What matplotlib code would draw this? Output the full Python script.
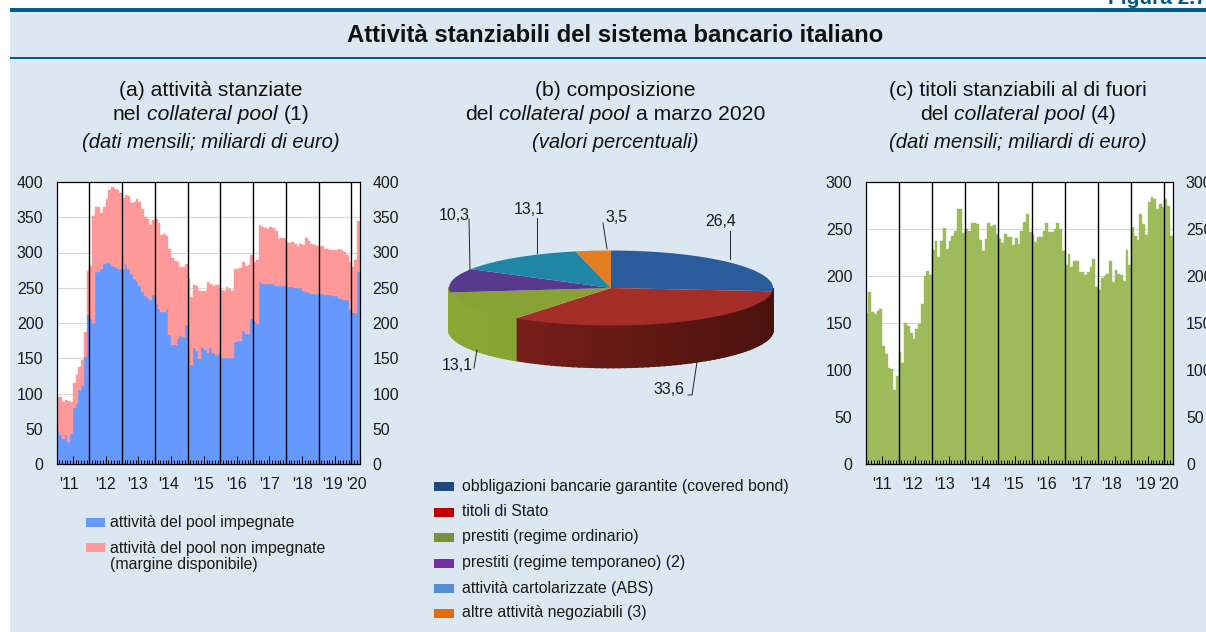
import numpy as np
import matplotlib
matplotlib.use('Agg')
import matplotlib.pyplot as plt
from matplotlib.patches import Rectangle

plt.rcParams['font.family'] = ['Liberation Sans', 'DejaVu Sans']

W, H = 1206, 632

# panel (a): miliardi di euro, gen 2011 - mar 2020
impegnate = [47, 41, 36, 41, 31, 42, 80, 85, 105, 111, 152, 212,
             206, 200, 272, 273, 276, 284, 287, 285, 281, 280, 277, 276,
             277, 284, 276, 270, 263, 259, 252, 244, 239, 235, 233, 240,
             227, 220, 216, 215, 220, 183, 169, 169, 178, 181, 180, 197,
             165, 141, 165, 160, 149, 165, 162, 158, 164, 157, 155, 158,
             151, 151, 151, 151, 150, 173, 174, 174, 188, 185, 185, 205,
             203, 199, 258, 256, 255, 255, 256, 255, 253, 252, 252, 252,
             251, 251, 251, 250, 250, 249, 246, 244, 243, 241, 241, 241,
             241, 241, 240, 240, 240, 239, 238, 236, 234, 232, 232, 219,
             214, 214, 272]
totale = [95, 95, 88, 91, 90, 88, 115, 126, 138, 148, 187, 274,
          281, 352, 364, 364, 356, 364, 376, 388, 393, 390, 388, 385,
          377, 382, 380, 370, 371, 376, 372, 362, 350, 348, 339, 346,
          347, 342, 325, 326, 323, 305, 292, 288, 287, 280, 279, 284,
          263, 237, 254, 252, 245, 246, 246, 258, 256, 252, 254, 254,
          247, 246, 251, 248, 246, 276, 276, 278, 287, 281, 282, 297,
          287, 290, 339, 336, 335, 333, 336, 335, 330, 319, 320, 321,
          313, 313, 315, 312, 308, 312, 310, 320, 317, 312, 310, 309,
          308, 309, 305, 305, 303, 303, 304, 305, 303, 301, 296, 286,
          279, 290, 345]

# panel (b): percentuali, in senso orario da nord
quote = [26.4, 33.6, 13.1, 10.3, 13.1, 3.5]
voci = ['obbligazioni bancarie garantite (covered bond)', 'titoli di Stato',
        'prestiti (regime ordinario)', 'prestiti (regime temporaneo) (2)',
        'attività cartolarizzate (ABS)', 'altre attività negoziabili (3)']
etichette_quote = ['26,4', '33,6', '13,1', '10,3', '13,1', '3,5']

# panel (c): miliardi di euro
stanziabili = [161, 183, 162, 160, 163, 165, 126, 117, 102, 101, 79, 94,
               119, 107, 150, 147, 139, 133, 144, 149, 170, 200, 205, 201,
               228, 237, 220, 237, 251, 229, 237, 243, 248, 271, 271, 246,
               250, 248, 256, 256, 255, 238, 227, 239, 256, 253, 254, 245,
               239, 235, 245, 241, 241, 233, 240, 234, 248, 257, 266, 247,
               245, 236, 242, 242, 248, 256, 247, 247, 250, 256, 250, 227,
               212, 223, 210, 216, 216, 204, 204, 201, 204, 210, 218, 188,
               185, 198, 200, 202, 216, 194, 206, 202, 201, 195, 228, 212,
               252, 243, 238, 266, 255, 244, 279, 284, 282, 271, 277, 273,
               282, 274, 243]

anni = ["'11", "'12", "'13", "'14", "'15", "'16", "'17", "'18", "'19", "'20"]
mesi_etichette_a = [4.6, 17.8, 29.5, 41, 54, 66, 78, 90, 101, 110]
mesi_etichette_c = [6, 17, 28.5, 41.5, 53.5, 65.5, 78, 89, 101, 109.6]

BG = '#dce8f1'
TEAL = '#005c85'
TXT = '#1a1a1a'
FS = 11.4


def add_axes_px(left, top, right, bottom, **kw):
    return fig.add_axes([left / W, 1 - bottom / H, (right - left) / W, (bottom - top) / H], **kw)


def style_bars(ax, ymax, step, label_months):
    n = len(impegnate)
    ax.set_xlim(0, n)
    ax.set_ylim(0, ymax)
    ax.set_facecolor('white')
    ax.set_axisbelow(False)
    ax.set_yticks(np.arange(0, ymax + 1, step))
    for y in np.arange(step, ymax, step):
        ax.axhline(y, color='#d8d8d8', lw=0.8, zorder=0.5)
    ax.tick_params(axis='y', length=0, labelsize=FS, labelcolor=TXT, pad=9.5,
                   labelleft=True, labelright=True)
    # tacche mensili, una piu lunga a meta anno
    ax.set_xticks(np.arange(n + 1), minor=True)
    ax.tick_params(axis='x', which='minor', direction='in', length=3.2, width=0.7, color='black')
    ax.set_xticks(np.arange(6, n, 12))
    ax.set_xticklabels([])
    ax.tick_params(axis='x', which='major', direction='in', length=6, width=0.7, color='black')
    for m in range(12, n, 12):
        ax.axvline(m, color='black', lw=1.0, zorder=3)
    for s in ax.spines.values():
        s.set_linewidth(0.9)
        s.set_color('black')
        s.set_zorder(4)
    for m, a in zip(label_months, anni):
        ax.annotate(a, (m, 0), xycoords=('data', 'axes fraction'), xytext=(0, -15),
                    textcoords='offset points', ha='center', va='center',
                    fontsize=FS, color=TXT)


fig = plt.figure(figsize=(W / 100, H / 100), dpi=100, facecolor='white')

# sfondo e filetti
fig.add_artist(Rectangle((10 / W, 0), 1 - 10 / W, 1 - 10 / H, transform=fig.transFigure,
                         facecolor=BG, edgecolor='none', zorder=-5))
fig.add_artist(Rectangle((10 / W, 1 - 11.5 / H), 1 - 10 / W, 3 / H, transform=fig.transFigure,
                         facecolor=TEAL, edgecolor='none', zorder=-4))
fig.add_artist(Rectangle((10 / W, 1 - 58.5 / H), 1 - 10 / W, 1.2 / H, transform=fig.transFigure,
                         facecolor=TEAL, edgecolor='none', zorder=-4))

# (a)
ax_a = add_axes_px(56.5, 182, 359.5, 464)
mesi = np.arange(len(impegnate))
margine = np.array(totale) - np.array(impegnate)
ax_a.bar(mesi, impegnate, width=1, align='edge', color='#6699ff', edgecolor='#6699ff', lw=0.3, zorder=2)
ax_a.bar(mesi, margine, bottom=impegnate, width=1, align='edge', color='#ff9999',
         edgecolor='#ff9999', lw=0.3, zorder=2)
style_bars(ax_a, 400, 50, mesi_etichette_a)

# (c)
ax_c = add_axes_px(865.5, 182, 1172.7, 464)
ax_c.bar(mesi, stanziabili, width=1, align='edge', color='#9dbb5b', edgecolor='#9dbb5b', lw=0.3, zorder=2)
style_bars(ax_c, 300, 50, mesi_etichette_c)

# (b) torta schiacciata con bordo 3D
A, B, D = 162.0, 37.5, 42.0
cx, cy = 611, 288
ax_b = add_axes_px(cx - 1.1 * A, cy - 1.2 * B, cx + 1.1 * A, cy + D + 1.2 * B, frameon=False)
top_cols = ['#2a5c9c', '#a52d28', '#88a235', '#573a8e', '#1f86a6', '#e27d22']
# i pochi gradi di blu e viola sul davanti nel riferimento non si vedono
rim_cols = [('#4a120d', '#4a120d'), ('#4a120d', '#84211e'), ('#75962f', '#8aa834'),
            ('#8aa834', '#8aa834'), ('#176378', '#176378'), ('#a85a18', '#a85a18')]

bordi = np.cumsum([0] + quote) / sum(quote) * 2 * np.pi
depth = D / B
for i in range(len(quote)):
    th = np.linspace(bordi[i], bordi[i + 1], 60)
    th = th[np.cos(th) <= 0.02]
    if len(th) < 2:
        continue
    c0, c1 = [np.array(matplotlib.colors.to_rgb(c)) for c in rim_cols[i]]
    for t0, t1 in zip(th[:-1], th[1:]):
        x0, x1, y0, y1 = np.sin(t0), np.sin(t1), np.cos(t0), np.cos(t1)
        f = (1 - (x0 + x1) / 2) / 2
        ax_b.fill([x0, x1, x1, x0], [y0, y1, y1 - depth, y0 - depth],
                  color=c0 + (c1 - c0) * f, lw=1.2, zorder=1)

ax_b.pie(quote, colors=top_cols, startangle=90, counterclock=False, radius=1,
         wedgeprops={'linewidth': 0, 'zorder': 2})
ax_b.set_aspect('auto')
ax_b.set_xlim(-1.1, 1.1)
ax_b.set_ylim(-1.2 - depth, 1.2)

# testi e linee in coordinate pixel
ov = fig.add_axes([0, 0, 1, 1], zorder=10)
ov.patch.set_alpha(0)
ov.axis('off')
ov.set_xlim(0, W)
ov.set_ylim(H, 0)


def mixed(xc, y, parts, fs=15.2):
    # riga centrata con tratti normali e corsivi
    gap = 0.278 * fs * 100 / 72
    items = [ov.text(0, y, t, style=st, fontsize=fs, color='#111111', va='center', ha='left')
             for t, st in parts]
    r = fig.canvas.get_renderer()
    ws = [it.get_window_extent(r).width for it in items]
    x = xc - (sum(ws) + gap * (len(ws) - 1)) / 2
    for it, w in zip(items, ws):
        it.set_x(x)
        x += w + gap


ov.text(1108, 4, 'Figura 2.7', fontsize=15, fontweight='bold', color=TEAL, ha='left', va='baseline')
ov.text(615, 36, 'Attività stanziabili del sistema bancario italiano', fontsize=17.2,
        fontweight='bold', color='#111111', ha='center', va='center')

mixed(211, 90, [('(a) attività stanziate', 'normal')])
mixed(211, 115, [('nel', 'normal'), ('collateral pool', 'italic'), ('(1)', 'normal')])
mixed(211, 142, [('(dati mensili; miliardi di euro)', 'italic')], fs=14.6)
mixed(615, 90, [('(b) composizione', 'normal')])
mixed(615, 115, [('del', 'normal'), ('collateral pool', 'italic'), ('a marzo 2020', 'normal')])
mixed(615, 142, [('(valori percentuali)', 'italic')], fs=14.6)
mixed(1018, 90, [('(c) titoli stanziabili al di fuori', 'normal')])
mixed(1018, 115, [('del', 'normal'), ('collateral pool', 'italic'), ('(4)', 'normal')])
mixed(1018, 142, [('(dati mensili; miliardi di euro)', 'italic')], fs=14.6)

# etichette della torta
pos_etichette = [(721, 221), (669, 390), (457, 365), (454, 216), (529, 209), (616, 218)]
linee = [[(730, 231), (730, 259)], [(697, 362), (692, 395), (688, 395)], [(477, 350), (474, 368)],
         [(469, 219), (470, 270)], [(537, 218), (537, 253)], [(603, 223), (607, 249)]]
for lab, p, l in zip(etichette_quote, pos_etichette, linee):
    ov.text(p[0], p[1], lab, fontsize=FS, color=TXT, ha='center', va='center')
    ov.plot(*zip(*l), color='#222222', lw=0.7)

# legenda (a)
ov.add_patch(Rectangle((86, 518), 19, 9, facecolor='#6699ff', edgecolor='none'))
ov.add_patch(Rectangle((86, 543), 19, 9, facecolor='#ff9999', edgecolor='none'))
ov.text(110, 522, 'attività del pool impegnate', fontsize=FS, color=TXT, va='center')
ov.text(110, 548, 'attività del pool non impegnate', fontsize=FS, color=TXT, va='center')
ov.text(110, 565, '(margine disponibile)', fontsize=FS, color=TXT, va='center')

# legenda (b)
leg_cols = ['#1f497d', '#c00000', '#76923c', '#7030a0', '#558ed5', '#e36c09']
righe = [486.5, 512, 537, 563, 588, 613]
for v, c, y in zip(voci, leg_cols, righe):
    ov.add_patch(Rectangle((434, y - 4.5), 20, 9, facecolor=c, edgecolor='none'))
    ov.text(462, y, v, fontsize=FS, color=TXT, va='center')

fig.savefig('out.png', dpi=100)
